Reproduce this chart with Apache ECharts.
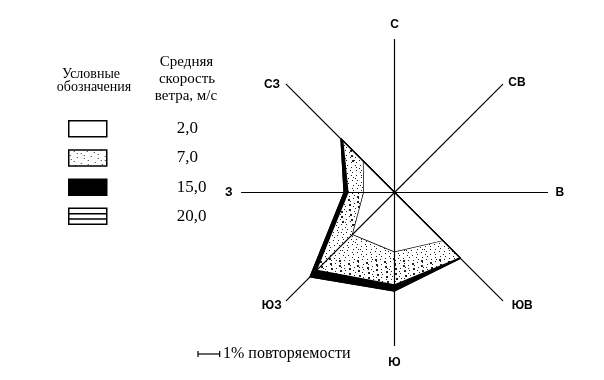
<!DOCTYPE html>
<html>
<head>
<meta charset="utf-8">
<script src="https://cdn.jsdelivr.net/npm/echarts@6/dist/echarts.min.js"></script>
<style>
html,body{margin:0;padding:0;background:#fff;}
#chart{width:604px;height:380px;}
</style>
</head>
<body>
<div id="chart"></div>
<script>
// Directions in radar drawing order (counter-clockwise from north)
var directions = ['С', 'СЗ', 'З', 'ЮЗ', 'Ю', 'ЮВ', 'В', 'СВ'];
// Wind speed classes (legend), m/s
var speeds = ['2,0', '7,0', '15,0', '20,0'];
// Frequency (% of occurrence) for each speed band, per direction
var freq2  = [0, 2.0, 1.4, 2.7, 2.7, 3.1, 0, 0];
var freq7  = [0, 1.3, 0.7, 2.3, 1.5, 1.1, 0, 0];
var freq15 = [0, 0.15, 0.2, 0.45, 0.3, 0.05, 0, 0];
var freq20 = [0, 0, 0, 0, 0, 0, 0, 0];
var scaleMax = 7.0; // % at the end of each axis

function cumulate(arrs) {
  return arrs[0].map(function (_, i) {
    var s = 0; arrs.forEach(function (a) { s += a[i]; }); return +s.toFixed(3);
  });
}
var cum2 = cumulate([freq2]);
var cum7 = cumulate([freq2, freq7]);
var cum15 = cumulate([freq2, freq7, freq15]);
var cum20 = cumulate([freq2, freq7, freq15, freq20]);

// stipple texture (low-discrepancy R2 sequence, deterministic)
function makeDots(bg, fg, n, W) {
  var c = document.createElement('canvas');
  c.width = W; c.height = W;
  var ctx = c.getContext('2d');
  ctx.fillStyle = bg; ctx.fillRect(0, 0, W, W);
  ctx.fillStyle = fg;
  var a1 = 0.7548776662466927, a2 = 0.5698402909980532;
  for (var i = 0; i < n; i++) {
    var x = Math.floor(((0.5 + a1 * i) % 1) * W);
    var y = Math.floor(((0.5 + a2 * i) % 1) * W);
    var s = (i % 7 === 0) ? 2 : 1;
    ctx.fillRect(x, y, s, s);
  }
  return c;
}
var dotPattern = { image: makeDots('#ffffff', '#222222', 290, 64), repeat: 'repeat' };
var legendDots = { image: makeDots('#ffffff', '#333333', 90, 48), repeat: 'repeat' };

var nameStyleKey = { 'С': 'n', 'СВ': 'ne', 'В': 'e', 'ЮВ': 'se', 'Ю': 's', 'ЮЗ': 'sw', 'З': 'w', 'СЗ': 'nw' };

var chart = echarts.init(document.getElementById('chart'), null, { renderer: 'canvas' });
var serif = 'Liberation Serif';
var lab = { fontFamily: 'Liberation Sans', fontWeight: 'bold', fontSize: 12, color: '#000' };
function rs(p) { return Object.assign({ padding: p }, lab); }

var option = {
  backgroundColor: '#ffffff',
  animation: false,
  legend: {
    orient: 'vertical',
    left: 63,
    top: 115,
    itemWidth: 38,
    itemHeight: 16,
    itemGap: 11.7,
    selectedMode: false,
    textStyle: { fontFamily: serif, fontSize: 17, color: '#000', padding: [0, 0, 0, 65] },
    data: [
      { name: speeds[0], icon: 'rect', itemStyle: { color: '#ffffff', borderColor: '#000', borderWidth: 1.5 } },
      { name: speeds[1], icon: 'rect', itemStyle: { color: legendDots, borderColor: '#000', borderWidth: 1.5 } },
      { name: speeds[2], icon: 'rect', itemStyle: { color: '#000', borderColor: '#000', borderWidth: 1.5 } },
      { name: speeds[3], icon: 'path://M0,0H38V16H0Z M0,5.3H38 M0,10.7H38', itemStyle: { color: '#ffffff', borderColor: '#000', borderWidth: 1.5 } }
    ]
  },
  radar: {
    center: [394.5, 192.5],
    radius: 153,
    startAngle: 90,
    shape: 'polygon',
    splitNumber: 1,
    z: 5,
    nameGap: 0,
    indicator: directions.map(function (d) { return { name: d, min: 0, max: scaleMax }; }),
    axisLine: { lineStyle: { color: '#000', width: 1.2 } },
    splitLine: { show: false },
    splitArea: { show: false },
    axisName: {
      color: '#000', fontFamily: 'Liberation Sans', fontWeight: 'bold', fontSize: 12,
      formatter: function (name) { return '{' + nameStyleKey[name] + '|' + name + '}'; },
      rich: {
        n:  rs([0, 0, 9, 0]),
        s:  rs([11, 0, 0, 0]),
        e:  rs([0, 0, 0, 8]),
        w:  rs([0, 9, 0, 0]),
        ne: rs([0, 0, 3.6, 5.6]),
        nw: rs([0, 6.3, 0, 0]),
        se: rs([10, 0, 0, 9]),
        sw: rs([10, 4.6, 0, 0])
      }
    }
  },
  graphic: [
    { type: 'text', x: 91, y: 74, style: { text: 'Условные', font: '14px ' + serif, fill: '#000', align: 'center', verticalAlign: 'middle' } },
    { type: 'text', x: 94, y: 87, style: { text: 'обозначения', font: '14px ' + serif, fill: '#000', align: 'center', verticalAlign: 'middle' } },
    { type: 'text', x: 186.5, y: 62, style: { text: 'Средняя', font: '15px ' + serif, fill: '#000', align: 'center', verticalAlign: 'middle' } },
    { type: 'text', x: 187, y: 79, style: { text: 'скорость', font: '15px ' + serif, fill: '#000', align: 'center', verticalAlign: 'middle' } },
    { type: 'text', x: 186, y: 96, style: { text: 'ветра, м/с', font: '15px ' + serif, fill: '#000', align: 'center', verticalAlign: 'middle' } },
    { type: 'polyline', shape: { points: [[198, 351], [198, 357]] }, style: { stroke: '#000', lineWidth: 1.2 } },
    { type: 'polyline', shape: { points: [[198, 354], [219.7, 354]] }, style: { stroke: '#000', lineWidth: 1.2 } },
    { type: 'polyline', shape: { points: [[219.7, 351], [219.7, 357]] }, style: { stroke: '#000', lineWidth: 1.2 } },
    { type: 'text', x: 223, y: 354, style: { text: '1% повторяемости', font: '16px ' + serif, fill: '#000', verticalAlign: 'middle' } }
  ],
  series: [
    {
      name: speeds[3], type: 'radar', symbol: 'none',
      lineStyle: { color: '#000', width: 1.5 },
      areaStyle: { color: '#ffffff', opacity: 1 },
      data: [{ value: cum20, name: speeds[3] }]
    },
    {
      name: speeds[2], type: 'radar', symbol: 'none',
      lineStyle: { color: '#000', width: 1.6 },
      areaStyle: { color: '#000', opacity: 1 },
      data: [{ value: cum15, name: speeds[2] }]
    },
    {
      name: speeds[1], type: 'radar', symbol: 'none',
      lineStyle: { color: '#000', width: 1.2 },
      areaStyle: { color: dotPattern, opacity: 1 },
      data: [{ value: cum7, name: speeds[1] }]
    },
    {
      name: speeds[0], type: 'radar', symbol: 'none',
      lineStyle: { color: '#000', width: 1.4 },
      areaStyle: { color: '#ffffff', opacity: 1 },
      data: [{ value: cum2, name: speeds[0] }]
    }
  ]
};
chart.setOption(option);
</script>
</body>
</html>
